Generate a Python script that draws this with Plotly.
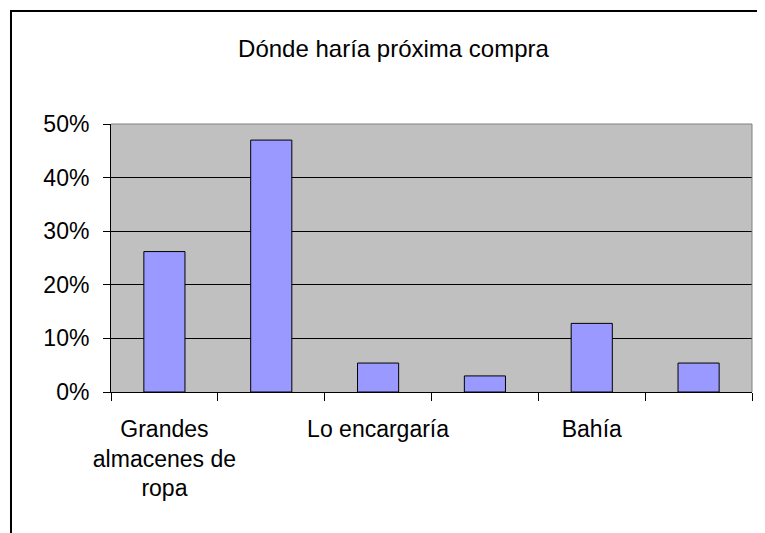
import plotly.graph_objects as go

title = "Dónde haría próxima compra"
categories = ["Grandes<br>almacenes de<br>ropa", None, "Lo encargaría", None, "Bahía", None]
values = [0.262, 0.470, 0.054, 0.030, 0.128, 0.054]
y_ticks = [0, 0.1, 0.2, 0.3, 0.4, 0.5]

W, H = 765, 533
OFF = 8  # page body offset
L, R, T, B = 111 - OFF, 13 + OFF, 124 - OFF, 141 + OFF
pw, ph = W - L - R, H - T - B

positions = list(range(len(values)))
label_pos = [p for p, c in zip(positions, categories) if c]
label_txt = [c for c in categories if c]

FONT = "Liberation Sans, Arial, sans-serif"

fig = go.Figure(go.Bar(
    x=positions, y=values,
    marker=dict(color="#9999FF", line=dict(color="black", width=1)),
    width=0.385,
))

fig.update_layout(
    width=W, height=H,
    margin=dict(l=L, r=R, t=T, b=B, pad=0),
    paper_bgcolor="white", plot_bgcolor="#C0C0C0",
    font=dict(family=FONT, color="black", size=23),
    showlegend=False,
    title=dict(text=title, x=(393.5 - OFF) / W, xanchor="center", xref="container",
               y=1 - (49 - OFF) / H, yanchor="middle", yref="container",
               font=dict(size=24, family=FONT, color="black")),
    xaxis=dict(
        range=[-0.5, len(values) - 0.5],
        tickmode="array", tickvals=label_pos, ticktext=label_txt,
        ticks="", showgrid=False, zeroline=False,
        showline=True, linecolor="black", linewidth=1,
        tickfont=dict(size=23, family=FONT, color="black"),
        ticklabelstandoff=16,
        minor=dict(tickmode="array",
                   tickvals=[p - 0.5 for p in positions] + [len(values) - 0.5],
                   ticks="outside", ticklen=8, tickcolor="black", tickwidth=1,
                   showgrid=False),
    ),
    yaxis=dict(
        range=[0, 0.5], tickmode="array", tickvals=y_ticks, tickformat=".0%",
        ticks="outside", ticklen=7, tickcolor="black", tickwidth=1,
        showgrid=True, gridcolor="black", gridwidth=1,
        zeroline=False, showline=True, linecolor="black", linewidth=1,
        tickfont=dict(size=23, family=FONT, color="black"),
        ticklabelstandoff=9,
    ),
    shapes=[
        dict(type="line", xref="paper", yref="paper", x0=0, x1=1, y0=1, y1=1,
             line=dict(color="#808080", width=1), layer="above"),
        dict(type="line", xref="paper", yref="paper", x0=1, x1=1, y0=0, y1=1,
             line=dict(color="#808080", width=1), layer="above"),
        dict(type="rect", xref="paper", yref="paper",
             x0=(11 - OFF - L) / pw, x1=1.5, y0=-1.0, y1=(H - B - (11 - OFF)) / ph,
             line=dict(color="black", width=2), fillcolor="rgba(0,0,0,0)",
             layer="above"),
    ],
)

fig.write_html("out.html")
